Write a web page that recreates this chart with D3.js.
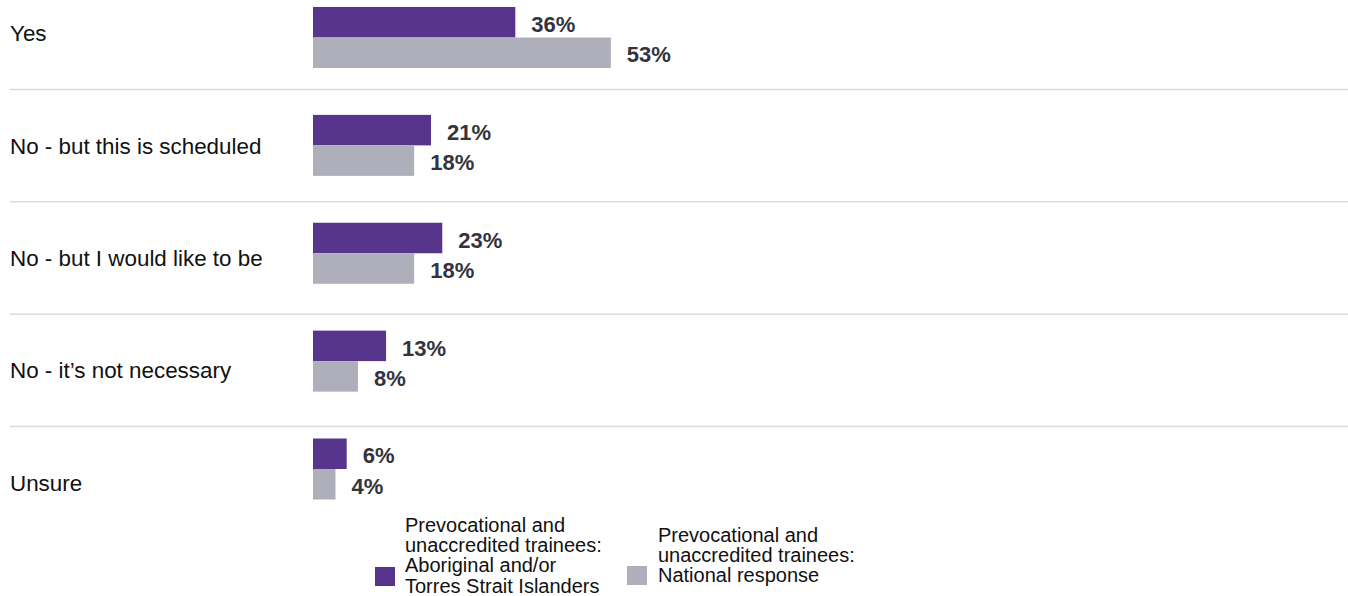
<!DOCTYPE html>
<html>
<head>
<meta charset="utf-8">
<script src="https://cdn.jsdelivr.net/npm/d3@7"></script>
<style>
  body { margin: 0; background: #fff; }
  svg { display: block; font-family: "Liberation Sans", Arial, sans-serif; }
</style>
</head>
<body>
<svg id="chart" width="1348" height="596"></svg>
<script>
// data
var categories = [
    "Yes",
    "No - but this is scheduled",
    "No - but I would like to be",
    "No - it\u2019s not necessary",
    "Unsure"
];
var aboriginal = [36, 21, 23, 13, 6];
var national = [53, 18, 18, 8, 4];
var seriesNames = [
    ["Prevocational and", "unaccredited trainees:", "Aboriginal and/or", "Torres Strait Islanders"],
    ["Prevocational and", "unaccredited trainees:", "National response"]
];
var colors = ["#58358c", "#afafbb"];

var svg = d3.select("#chart");

// scales
var x = d3.scaleLinear().domain([0, 100]).range([313, 875]);
// rows for labels and separators
var rowY = d3.scaleBand().domain(categories).range([-22.9, 539]).padding(0);
// centres of each bar pair
var barY = d3.scalePoint().domain(categories).range([37.5, 469]);
var barH = 30.5;

// separator lines between rows
svg.append("g").attr("class", "grid")
    .selectAll("line")
    .data(categories.slice(1))
    .join("line")
    .attr("x1", 10)
    .attr("x2", 1348)
    .attr("y1", d => rowY(d))
    .attr("y2", d => rowY(d))
    .attr("stroke", "#dcdcdc")
    .attr("stroke-width", 1.5);

// category labels
svg.append("g").attr("class", "cats")
    .selectAll("text")
    .data(categories)
    .join("text")
    .attr("x", 10)
    .attr("y", d => rowY(d) + rowY.bandwidth() / 2)
    .attr("dy", "0.35em")
    .attr("font-size", "22.4px")
    .attr("fill", "#111")
    .text(d => d);

// bars + value labels, one series at a time
[aboriginal, national].forEach(function (vals, s) {
    var g = svg.append("g").attr("class", "series" + s);
    var rows = categories.map((c, i) => ({cat: c, v: vals[i]}));
    var top = d => barY(d.cat) - barH + s * barH;

    g.selectAll("rect")
        .data(rows)
        .join("rect")
        .attr("x", x(0))
        .attr("y", top)
        .attr("width", d => x(d.v) - x(0))
        .attr("height", barH)
        .attr("fill", colors[s]);

    g.selectAll("text")
        .data(rows)
        .join("text")
        .attr("x", d => x(d.v) + 16)
        .attr("y", d => top(d) + barH / 2 + 2)
        .attr("dy", "0.35em")
        .attr("font-size", "22px")
        .attr("font-weight", "bold")
        .attr("fill", "#33333d")
        .text(d => d.v + "%");
});

// legend
var legendPos = [
    {sx: 375, sy: 567, tx: 405, ty: 532},
    {sx: 627, sy: 566, tx: 658, ty: 542}
];
legendPos.forEach(function (p, i) {
    var g = svg.append("g").attr("class", "legend");
    g.append("rect")
        .attr("x", p.sx)
        .attr("y", p.sy)
        .attr("width", 20)
        .attr("height", 19)
        .attr("fill", colors[i]);
    var t = g.append("text")
        .attr("font-size", "20px")
        .attr("fill", "#111");
    seriesNames[i].forEach(function (line, k) {
        t.append("tspan")
            .attr("x", p.tx)
            .attr("y", p.ty + k * 20.2)
            .text(line);
    });
});
</script>
</body>
</html>
